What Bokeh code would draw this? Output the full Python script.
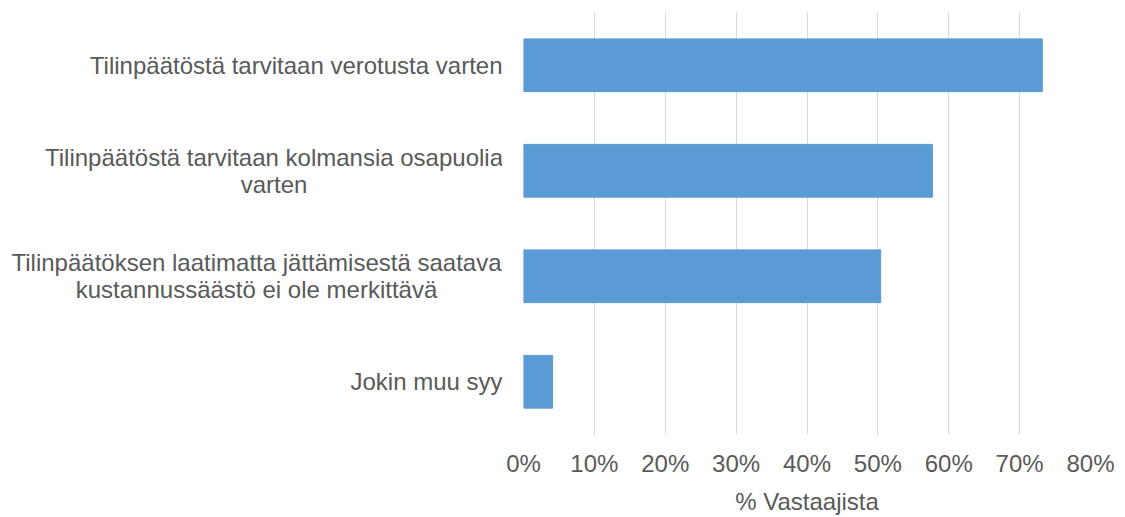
from bokeh.plotting import figure
from bokeh.layouts import row
from bokeh.models import Range1d, FactorRange, FixedTicker, NumeralTickFormatter, ColumnDataSource
from bokeh.core.properties import value
from bokeh.embed import file_html
from bokeh.resources import INLINE

categories = [
    "Tilinpäätöstä tarvitaan verotusta varten",
    "Tilinpäätöstä tarvitaan kolmansia osapuolia\nvarten",
    "Tilinpäätöksen laatimatta jättämisestä saatava\nkustannussäästö ei ole merkittävä",
    "Jokin muu syy",
]
values = [0.732, 0.577, 0.504, 0.041]
x_ticks = [0.0, 0.1, 0.2, 0.3, 0.4, 0.5, 0.6, 0.7, 0.8]
x_title = "% Vastaajista"

FONT = "Liberation Sans"
TXT = "#595959"
H = 517
BOTTOM = 81
TOP = 12

y_range = FactorRange(factors=list(reversed(categories)))

# ---- main chart ----
p = figure(
    width=623, height=H,
    x_range=Range1d(0, 0.8), y_range=y_range,
    output_backend="svg", toolbar_location=None,
    min_border_left=21, min_border_right=35, min_border_top=TOP, min_border_bottom=BOTTOM,
)
p.hbar(y=categories, left=0, right=values, height=0.5, color="#5B9BD5")
p.outline_line_color = None
p.ygrid.visible = False
p.xgrid.grid_line_color = "#d9d9d9"
p.xgrid.grid_line_width = 1
p.yaxis.visible = False

ax = p.xaxis[0]
ax.ticker = FixedTicker(ticks=x_ticks)
ax.formatter = NumeralTickFormatter(format="0%")
ax.axis_line_color = None
ax.major_tick_line_color = None
ax.minor_tick_line_color = None
ax.major_tick_out = 0
ax.major_tick_in = 0
ax.major_label_text_font = FONT
ax.major_label_text_font_size = "24px"
ax.major_label_text_color = TXT
ax.major_label_standoff = 15
ax.axis_label = x_title
ax.axis_label_text_font = FONT
ax.axis_label_text_font_size = "24px"
ax.axis_label_text_font_style = "normal"
ax.axis_label_text_color = TXT
ax.axis_label_standoff = 8

# ---- category labels (left panel, shares the y range) ----
lab = figure(
    width=502, height=H,
    x_range=Range1d(0, 1), y_range=y_range,
    output_backend="svg", toolbar_location=None,
    min_border_left=0, min_border_right=0, min_border_top=TOP, min_border_bottom=BOTTOM,
)
lab.axis.visible = False
lab.grid.visible = False
lab.outline_line_color = None

single = dict(x=[], y=[], text=[])
multi = dict(x=[], y=[], text=[], xo=[], yo=[])
LINE_GAP = 27
for cat in categories:
    lines = cat.split("\n")
    if len(lines) == 1:
        single["x"].append(1)
        single["y"].append(cat)
        single["text"].append(cat)
    else:
        widest = max(lines, key=len)
        xo = -228.5 if widest.startswith("Tilinpäätöstä") else -246
        k = len(lines)
        for j, ln in enumerate(lines):
            multi["x"].append(1)
            multi["y"].append(cat)
            multi["text"].append(ln)
            multi["xo"].append(xo)
            multi["yo"].append((j - (k - 1) / 2) * LINE_GAP)

lab.text(x="x", y="y", text="text", source=ColumnDataSource(single),
         x_offset=0, text_align="right", text_baseline="middle",
         text_font=value(FONT), text_font_size="24px", text_color=TXT)
lab.text(x="x", y="y", text="text", source=ColumnDataSource(multi),
         x_offset="xo", y_offset="yo", text_align="center", text_baseline="middle",
         text_font=value(FONT), text_font_size="24px", text_color=TXT)

layout = row(lab, p)
open("out.html", "w").write(file_html(layout, INLINE))
